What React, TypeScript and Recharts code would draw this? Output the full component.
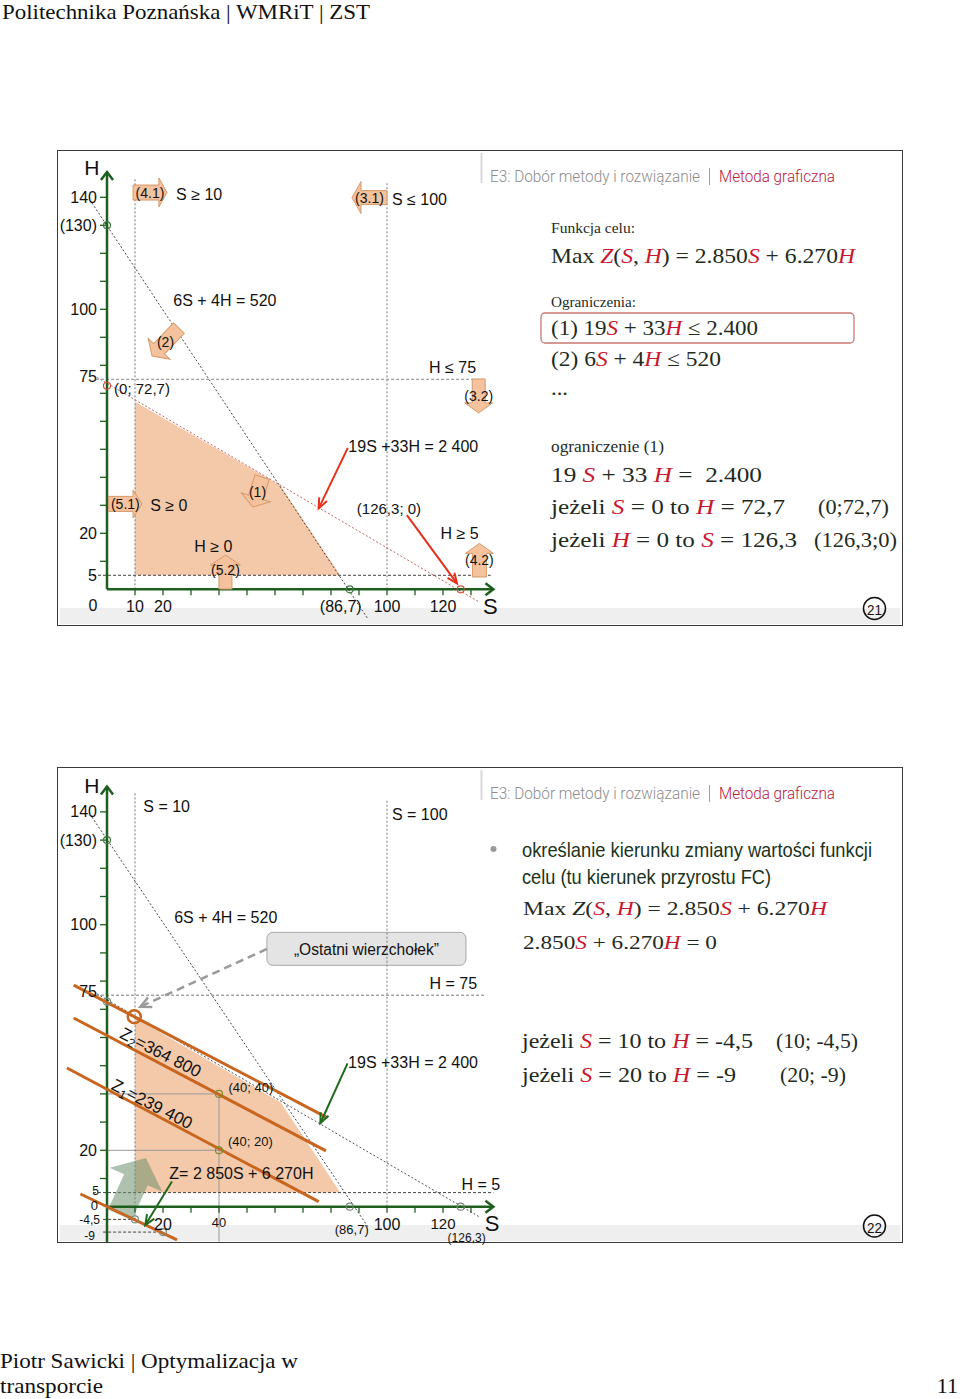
import React from 'react';
import { ComposedChart, Area, XAxis, YAxis, ReferenceLine, ReferenceDot, ReferenceArea } from 'recharts';

// feasible region: S, upper H, bottom bound H >= 5
const regionS = [10, 62, 83.3];
const regionTop = [67, 37, 5];
const regionFloor = 5;

// axis tick marks
const hTicks = [10, 20, 30, 40, 50, 60, 70, 80, 90, 100, 110, 120, 130, 140];
const sTicks = [10, 20, 30, 40, 50, 60, 70, 80, 90, 100, 110, 120, 130];

// slide 21 tick labels
const hVals1 = [140, 130, 100, 75, 20, 5];
const hText1 = ['140', '(130)', '100', '75', '20', '5'];
const sVals1 = [10, 20, 86.7, 100, 120];
const sText1 = ['10', '20', '(86,7)', '100', '120'];

// slide 22 tick labels
const hVals2 = [140, 130, 100, 75, 20, 5, 0, -4.5, -9];
const hText2 = ['140', '(130)', '100', '75', '20', '5', '0', '-4,5', '-9'];
const sVals2 = [20, 40, 86.7, 100, 120, 126.3];
const sText2 = ['20', '40', '(86,7)', '100', '120', '(126,3)'];

// constraint lines as drawn, [S, H] end points
const line520A = [[-5.4, 138], [93, -10.3]];
const line2400A = [[-3.6, 75.7], [133, -4.6]];
const line520B = [[-5.4, 138.2], [93.5, -7.6]];
const line2400B = [[-3.6, 75.5], [132.8, -3.5]];

// iso-profit lines Z = 2850S + 6270H (slide 22)
const isoLast = [[-11.9, 78.6], [78.8, 31.5]];
const isoZ2 = [[-11.9, 66.9], [78.2, 19.8]];
const isoZ1 = [[-14.3, 49.2], [75.6, 1.8]];
const isoZ0 = [[-9.5, 4.5], [25, -11.8]];

// marked points
const pointsA = [[0, 130], [0, 72.7], [86.7, 0], [126.3, 0]];
const pointsB = [[0, 130], [0, 72.7], [40, 40], [40, 20], [86.7, 0], [126.3, 0], [10, -4.5], [20, -9]];
const lastVertex = [9.75, 67.4];

const FONT = '"Liberation Sans", Arial, sans-serif';
const SERIF = '"Liberation Serif", "Times New Roman", serif';
const AX = '#1E5E1E';
const PEACH = '#F3C9A9';
const ARROW_FILL = '#F4C29D';
const ARROW_LINE = '#D6996A';
const ORANGE = '#C8651E';
const INK = '#1E2B1E';
const RED = '#C8172E';

const CW = 445, SX0 = 49, PXS = 2.8;
const xDomain = [-SX0 / PXS, (CW - SX0) / PXS];
const yDomain = (y0: number, py: number, ch: number) => [(y0 - ch) / py, y0 / py];

const regionData = regionS.map((s, i) => ({ s, h: regionTop[i] }));

function seg(key: string, a: number[], b: number[], o: any = {}) {
  return (
    <ReferenceLine key={key} segment={[{ x: a[0], y: a[1] }, { x: b[0], y: b[1] }]} ifOverflow="visible"
      stroke={o.stroke || '#555'} strokeWidth={o.w || 1} strokeDasharray={o.dash} />
  );
}

function arrow(key: string, a: number[], b: number[], o: any = {}) {
  const color = o.stroke || '#000';
  const w = o.w || 2;
  const head = o.head || 10;
  const spread = o.spread || 0.5;
  return (
    <ReferenceLine key={key} segment={[{ x: a[0], y: a[1] }, { x: b[0], y: b[1] }]} ifOverflow="visible"
      shape={(p: any) => {
        const { x1, y1, x2, y2 } = p;
        const t = Math.atan2(y2 - y1, x2 - x1);
        const ax = x2 - head * Math.cos(t - spread), ay = y2 - head * Math.sin(t - spread);
        const bx = x2 - head * Math.cos(t + spread), by = y2 - head * Math.sin(t + spread);
        return (
          <g>
            <line x1={x1} y1={y1} x2={x2} y2={y2} stroke={color} strokeWidth={w} strokeDasharray={o.dash} />
            <polyline points={`${ax},${ay} ${x2},${y2} ${bx},${by}`} fill="none" stroke={color} strokeWidth={w} />
          </g>
        );
      }} />
  );
}

function blockArrow(key: string, a: number[], b: number[], label: string, o: any = {}) {
  const bw = o.bw || 15, hw = o.hw || 29, hl = o.hl || 9;
  return (
    <ReferenceLine key={key} segment={[{ x: a[0], y: a[1] }, { x: b[0], y: b[1] }]} ifOverflow="visible"
      shape={(p: any) => {
        const { x1, y1, x2, y2 } = p;
        const L = Math.hypot(x2 - x1, y2 - y1);
        const ang = (Math.atan2(y2 - y1, x2 - x1) * 180) / Math.PI;
        const pts = [[0, -bw / 2], [L - hl, -bw / 2], [L - hl, -hw / 2], [L, 0], [L - hl, hw / 2], [L - hl, bw / 2], [0, bw / 2]];
        return (
          <g>
            <polygon points={pts.map((q) => q.join(',')).join(' ')} transform={`translate(${x1},${y1}) rotate(${ang})`}
              fill={o.fill || ARROW_FILL} stroke={o.line || ARROW_LINE} strokeWidth={1} fillOpacity={o.opacity || 1} />
            {label ? (
              <text x={(x1 + x2) / 2 + (o.dx || 0)} y={(y1 + y2) / 2 + (o.dy || 0)} textAnchor="middle" dominantBaseline="central"
                fontFamily={FONT} fontSize={14} fill="#111">{label}</text>
            ) : null}
          </g>
        );
      }} />
  );
}

function label(key: string, s: number, h: number, text: any, o: any = {}) {
  return (
    <ReferenceDot key={key} x={s} y={h} ifOverflow="visible"
      shape={(p: any) => {
        const x = p.cx + (o.dx || 0), y = p.cy + (o.dy || 0);
        return (
          <text x={x} y={y} textAnchor={o.anchor || 'middle'} dominantBaseline="central" fontFamily={FONT}
            fontSize={o.size || 16} fill={o.color || '#111'} transform={o.rotate ? `rotate(${o.rotate} ${x} ${y})` : undefined}>
            {text}
          </text>
        );
      }} />
  );
}

function circle(key: string, s: number, h: number, color: string, r = 3.5, w = 1.2) {
  return <ReferenceDot key={key} x={s} y={h} r={r} fill="none" stroke={color} strokeWidth={w} ifOverflow="visible" />;
}

function axes(prefix: string, yBottom: number) {
  const out: any[] = [];
  out.push(arrow(prefix + 'ya', [0, yBottom], [0, 149], { stroke: AX, w: 2.5, head: 10, spread: 0.65 }));
  out.push(arrow(prefix + 'xa', [0, 0], [138, 0], { stroke: AX, w: 2.5, head: 10, spread: 0.65 }));
  hTicks.forEach((h) =>
    out.push(<ReferenceDot key={prefix + 'ht' + h} x={0} y={h} ifOverflow="visible"
      shape={(p: any) => <line x1={p.cx - 7} y1={p.cy} x2={p.cx} y2={p.cy} stroke={AX} strokeWidth={1.3} />} />));
  sTicks.forEach((s) =>
    out.push(<ReferenceDot key={prefix + 'st' + s} x={s} y={0} ifOverflow="visible"
      shape={(p: any) => <line x1={p.cx} y1={p.cy} x2={p.cx} y2={p.cy + 6} stroke={AX} strokeWidth={1.3} />} />));
  return out;
}

function ChartOne() {
  const CH = 474;
  const hOff: any = { '75': -3 };
  const sOff: any = { '(86,7)': -9 };
  return (
    <ComposedChart width={CW} height={CH} data={regionData} margin={{ top: 0, right: 0, bottom: 0, left: 0 }}>
      <XAxis type="number" dataKey="s" domain={xDomain} allowDataOverflow hide />
      <YAxis type="number" domain={yDomain(438.3, 2.8, CH)} allowDataOverflow hide />
      <Area dataKey="h" type="linear" baseValue={regionFloor} fill={PEACH} fillOpacity={1} stroke="none"
        dot={false} activeDot={false} isAnimationActive={false} />
      {seg('s10', [10, 0], [10, 147], { stroke: '#777', dash: '2 2' })}
      {seg('s100', [100, 0], [100, 145], { stroke: '#777', dash: '2 2' })}
      {seg('h75', [-3.9, 75], [135, 75], { stroke: '#888', dash: '3 2' })}
      {seg('h5', [-5, 5], [137, 5], { stroke: '#444', dash: '3 2' })}
      {seg('l520', line520A[0], line520A[1], { stroke: '#444', dash: '2 2' })}
      {seg('l2400', line2400A[0], line2400A[1], { stroke: '#D06060', dash: '2 2' })}
      {axes('a', 0)}
      {pointsA.map((p, i) => circle('pa' + i, p[0], p[1], i % 2 === 0 ? '#3C7A3C' : '#D0503A'))}
      {blockArrow('b41', [9.3, 141.7], [21.4, 141.7], '(4.1)', { bw: 15, hw: 29, hl: 8 })}
      {blockArrow('b31', [100, 139.9], [87.5, 139.9], '(3.1)', { bw: 14, hw: 32, hl: 9 })}
      {blockArrow('b2', [25.7, 93.3], [16.1, 83.3], '(2)', { bw: 15, hw: 30, hl: 10 })}
      {blockArrow('b1', [55.4, 40.1], [52.1, 29.4], '(1)', { bw: 15, hw: 30, hl: 10 })}
      {blockArrow('b32', [132.75, 75.1], [132.75, 63], '(3.2)', { bw: 13, hw: 28, hl: 10 })}
      {blockArrow('b42', [133, 4.4], [133, 16.4], '(4.2)', { bw: 14, hw: 28, hl: 10 })}
      {blockArrow('b51', [0.6, 30.5], [12.5, 30.5], '(5.1)', { bw: 15, hw: 28, hl: 9 })}
      {blockArrow('b52', [42.3, 0.1], [42.3, 12.2], '(5.2)', { bw: 13, hw: 30, hl: 10, dy: -2 })}
      {arrow('ra', [86, 50.5], [75.6, 28.9], { stroke: '#E5301C', w: 2, head: 11, spread: 0.4 })}
      {arrow('rb', [107.1, 26.5], [125, 2.1], { stroke: '#E5301C', w: 2, head: 11, spread: 0.4 })}
      {hVals1.map((v, i) => label('hl' + i, 0, v, hText1[i], { anchor: 'end', dx: -10, dy: hOff[hText1[i]] || 0 }))}
      {label('zero', 0, 0, '0', { dx: -14, dy: 16 })}
      {sVals1.map((v, i) => label('sl' + i, v, 0, sText1[i], { dy: 17, dx: sOff[sText1[i]] || 0 }))}
      {label('H', -5.4, 150.5, 'H', { size: 21 })}
      {label('S', 136.9, -6.2, 'S', { size: 22 })}
      {label('p727', 12.5, 71.8, '(0; 72,7)', { size: 15 })}
      {label('c520', 42.1, 103.1, '6S + 4H = 520')}
      {label('s10t', 32.9, 141.1, 'S ≥ 10')}
      {label('s100t', 111.6, 139.3, 'S ≤ 100')}
      {label('h75t', 123.4, 79.3, 'H ≤ 75')}
      {label('c2400', 109.4, 50.9, '19S +33H = 2 400')}
      {label('p1263', 100.7, 28.9, '(126,3; 0)', { size: 15 })}
      {label('h5t', 125.9, 20, 'H ≥ 5')}
      {label('s0t', 22.1, 29.8, 'S ≥ 0')}
      {label('h0t', 38, 15.2, 'H ≥ 0')}
    </ComposedChart>
  );
}

function ChartTwo() {
  const CH = 478;
  const hOff: any = { '75': -4, '5': -2, '0': -1, '-4,5': 1, '-9': 4 };
  const hDx: any = { '5': -8, '0': -9, '-4,5': -7, '-9': -12 };
  const hSize: any = { '5': 12, '0': 13, '-4,5': 12, '-9': 12 };
  const sOff: any = { '(86,7)': 23, '(126,3)': 31, '40': 16, '120': 17 };
  const sDx: any = { '(86,7)': 2, '(126,3)': 6 };
  const sSize: any = { '40': 13, '(86,7)': 13, '(126,3)': 12, '120': 15 };
  const iso = { stroke: ORANGE, w: 3 };
  return (
    <ComposedChart width={CW} height={CH} data={regionData} margin={{ top: 0, right: 0, bottom: 0, left: 0 }}>
      <XAxis type="number" dataKey="s" domain={xDomain} allowDataOverflow hide />
      <YAxis type="number" domain={yDomain(438.7, 2.82, CH)} allowDataOverflow hide />
      <Area dataKey="h" type="linear" baseValue={regionFloor} fill={PEACH} fillOpacity={1} stroke="none"
        dot={false} activeDot={false} isAnimationActive={false} />
      {seg('g40h', [0, 40], [40, 40], { stroke: '#999' })}
      {seg('g20h', [0, 20], [40, 20], { stroke: '#999' })}
      {seg('g40v', [40, -12.4], [40, 40], { stroke: '#999' })}
      {seg('s10', [10, -4.5], [10, 147], { stroke: '#777', dash: '2 2' })}
      {seg('s100', [100, 0], [100, 144], { stroke: '#777', dash: '2 2' })}
      {seg('h75', [-3.9, 75], [135, 75], { stroke: '#777', dash: '3 2' })}
      {seg('h5', [-5, 5], [138, 5], { stroke: '#444', dash: '3 2' })}
      {seg('hm45', [-1.4, -4.5], [10, -4.5], { stroke: '#444', dash: '3 2' })}
      {seg('hm9', [-1.4, -9], [20, -9], { stroke: '#444', dash: '3 2' })}
      {seg('l520', line520B[0], line520B[1], { stroke: '#444', dash: '2 2' })}
      {seg('l2400', line2400B[0], line2400B[1], { stroke: '#555', dash: '2 2' })}
      {blockArrow('grow', [4.6, -2.9], [13.9, 17.3], '', { bw: 26, hw: 58, hl: 24, fill: '#6E8F6E', line: 'none', opacity: 0.55 })}
      {axes('b', -12.5)}
      {seg('zl', isoLast[0], isoLast[1], iso)}
      {seg('z2', isoZ2[0], isoZ2[1], iso)}
      {seg('z1', isoZ1[0], isoZ1[1], iso)}
      {seg('z0', isoZ0[0], isoZ0[1], iso)}
      {pointsB.map((p, i) =>
        circle('pb' + i, p[0], p[1], i === 0 ? '#3C7A3C' : i === 2 || i === 3 ? '#7E8A2A' : '#7A8A7A'))}
      {circle('last', lastVertex[0], lastVertex[1], ORANGE, 6.5, 2.5)}
      <ReferenceArea x1={57.1} x2={128.2} y1={85.6} y2={97.3} ifOverflow="visible"
        shape={(p: any) => (
          <g>
            <rect x={p.x} y={p.y} width={p.width} height={p.height} rx={6} fill="#E4E4E4" stroke="#A8A8A8" strokeWidth={1} />
            <text x={p.x + p.width / 2} y={p.y + p.height / 2 + 1} textAnchor="middle" dominantBaseline="central"
              fontFamily={FONT} fontSize={16} fill="#111" textLength={145} lengthAdjust="spacingAndGlyphs">
              „Ostatni wierzchołek”
            </text>
          </g>
        )} />
      {arrow('dash', [57.1, 91.4], [11.9, 70.9], { stroke: '#9A9A9A', w: 2.5, dash: '8 5', head: 12, spread: 0.45 })}
      {arrow('ga', [85.9, 50.8], [76.2, 29.6], { stroke: '#1E6B1E', w: 2, head: 11, spread: 0.4 })}
      {arrow('gb', [23.2, 8.9], [13.7, -6.5], { stroke: '#1E6B1E', w: 2, head: 11, spread: 0.4 })}
      {hVals2.map((v, i) =>
        label('hl' + i, 0, v, hText2[i], {
          anchor: 'end', dx: hDx[hText2[i]] ?? -10, dy: hOff[hText2[i]] || 0, size: hSize[hText2[i]] || 16,
        }))}
      {sVals2.map((v, i) =>
        label('sl' + i, v, 0, sText2[i], { dy: sOff[sText2[i]] || 18, dx: sDx[sText2[i]] || 0, size: sSize[sText2[i]] || 16 }))}
      {label('H', -5.4, 149.5, 'H', { size: 21 })}
      {label('S', 137.5, -5.8, 'S', { size: 22 })}
      {label('s10t', 21.3, 141.8, 'S = 10')}
      {label('s100t', 111.7, 139.2, 'S = 100')}
      {label('c520', 42.4, 102.5, '6S + 4H = 520')}
      {label('h75t', 123.7, 79, 'H = 75')}
      {label('c2400', 109.3, 51, '19S +33H = 2 400')}
      {label('p4040', 51.4, 42.2, '(40; 40)', { size: 13 })}
      {label('p4020', 51.2, 23, '(40; 20)', { size: 13 })}
      {label('zf', 48, 11.8, 'Z= 2 850S + 6 270H')}
      {label('h5t', 133.5, 7.9, 'H = 5')}
      {label('z2t', 19.2, 54.7, <>Z<tspan dy={5} fontSize={12}>2</tspan><tspan dy={-5}>=364 800</tspan></>, { size: 17, rotate: 27 })}
      {label('z1t', 16.1, 36.4, <>Z<tspan dy={5} fontSize={12}>1</tspan><tspan dy={-5}>=239 400</tspan></>, { size: 17, rotate: 27 })}
    </ComposedChart>
  );
}

type Part = [string, string?, boolean?];

function Line({ x, y, size, len, parts, family = SERIF, color = INK, weight }: any) {
  return (
    <text x={x} y={y} fontSize={size} fontFamily={family} fill={color} fontWeight={weight}
      textLength={len} lengthAdjust="spacingAndGlyphs" style={{ whiteSpace: 'pre' }}>
      {(parts as Part[]).map((p, i) => (
        <tspan key={i} fill={p[1] || color} fontStyle={p[2] ? 'italic' : undefined}>{p[0]}</tspan>
      ))}
    </text>
  );
}

function Title({ y }: { y: number }) {
  const fam = 'Roboto, "Liberation Sans", sans-serif';
  return (
    <g>
      <line x1={481.5} y1={y - 29} x2={481.5} y2={y + 1} stroke="#D8D8D8" strokeWidth={2} />
      <Line x={490} y={y} size={17} len={210} family={fam} weight={300} color="#8C8C8C"
        parts={[['E3: Dobór metody i rozwiązanie']]} />
      <line x1={709.5} y1={y - 14} x2={709.5} y2={y + 3} stroke="#A0A0A0" strokeWidth={1} />
      <Line x={719} y={y} size={17} len={116} family={fam} weight={300} color="#B8203C"
        parts={[['Metoda graficzna']]} />
    </g>
  );
}

function SlideNo({ y, n }: { y: number; n: string }) {
  return (
    <g>
      <circle cx={874.5} cy={y} r={11} fill="none" stroke="#111" strokeWidth={1.5} />
      <text x={874.5} y={y + 1} textAnchor="middle" dominantBaseline="central" fontFamily={FONT} fontSize={15}
        textLength={15} lengthAdjust="spacingAndGlyphs" fill="#111">{n}</text>
    </g>
  );
}

function Overlay() {
  const I = true;
  return (
    <svg width={960} height={1399} style={{ position: 'absolute', left: 0, top: 0 }}>
      <text x={2} y={19} fontFamily={SERIF} fontSize={21} textLength={368} lengthAdjust="spacingAndGlyphs" fill="#111">
        Politechnika Poznańska | WMRiT | ZST
      </text>
      <text x={0} y={1368} fontFamily={SERIF} fontSize={22} textLength={298} lengthAdjust="spacingAndGlyphs" fill="#111">
        Piotr Sawicki | Optymalizacja w
      </text>
      <text x={0} y={1393} fontFamily={SERIF} fontSize={22} textLength={103} lengthAdjust="spacingAndGlyphs" fill="#111">
        transporcie
      </text>
      <text x={958} y={1393} textAnchor="end" fontFamily={SERIF} fontSize={22} fill="#111">11</text>

      {/* slide 21 */}
      <Title y={182} />
      <Line x={551} y={233} size={14} len={84} parts={[['Funkcja celu:']]} />
      <Line x={551} y={263} size={21} len={304}
        parts={[['Max '], ['Z', RED, I], ['('], ['S', RED, I], [', '], ['H', RED, I], [') = 2.850'], ['S', RED, I], [' + 6.270'], ['H', RED, I]]} />
      <Line x={551} y={307} size={14} len={85} parts={[['Ograniczenia:']]} />
      <rect x={541} y={313} width={313} height={30} rx={4} fill="none" stroke="#C97A72" strokeWidth={1.3} />
      <Line x={551} y={335} size={21} len={207}
        parts={[['(1) 19'], ['S', RED, I], [' + 33'], ['H', RED, I], [' ≤ 2.400']]} />
      <Line x={551} y={366} size={21} len={170}
        parts={[['(2) 6'], ['S', RED, I], [' + 4'], ['H', RED, I], [' ≤ 520']]} />
      <Line x={551} y={395} size={21} len={17} parts={[['...']]} />
      <Line x={551} y={452} size={16} len={113} parts={[['ograniczenie (1)']]} />
      <Line x={551} y={482} size={21} len={211}
        parts={[['19 '], ['S', RED, I], [' + 33 '], ['H', RED, I], [' =  2.400']]} />
      <Line x={551} y={514} size={21} len={234}
        parts={[['jeżeli '], ['S', RED, I], [' = 0 to '], ['H', RED, I], [' = 72,7']]} />
      <Line x={818} y={514} size={21} len={71} parts={[['(0;72,7)']]} />
      <Line x={551} y={547} size={21} len={246}
        parts={[['jeżeli '], ['H', RED, I], [' = 0 to '], ['S', RED, I], [' = 126,3']]} />
      <Line x={814} y={547} size={21} len={83} parts={[['(126,3;0)']]} />
      <SlideNo y={608.5} n="21" />

      {/* slide 22 */}
      <Title y={799} />
      <circle cx={493.5} cy={849} r={3} fill="#9A9A9A" />
      <Line x={522} y={857} size={21} len={350} family={FONT} color="#1A331A"
        parts={[['określanie kierunku zmiany wartości funkcji']]} />
      <Line x={522} y={884} size={21} len={249} family={FONT} color="#1A331A"
        parts={[['celu (tu kierunek przyrostu FC)']]} />
      <Line x={523} y={915} size={19} len={304}
        parts={[['Max '], ['Z', INK, I], ['('], ['S', RED, I], [', '], ['H', RED, I], [') = 2.850'], ['S', RED, I], [' + 6.270'], ['H', RED, I]]} />
      <Line x={523} y={949} size={19} len={194}
        parts={[['2.850'], ['S', RED, I], [' + 6.270'], ['H', RED, I], [' = 0']]} />
      <Line x={522} y={1048} size={21} len={231}
        parts={[['jeżeli '], ['S', RED, I], [' = 10 to '], ['H', RED, I], [' = -4,5']]} />
      <Line x={776} y={1048} size={21} len={82} parts={[['(10; -4,5)']]} />
      <Line x={522} y={1082} size={21} len={214}
        parts={[['jeżeli '], ['S', RED, I], [' = 20 to '], ['H', RED, I], [' = -9']]} />
      <Line x={780} y={1082} size={21} len={66} parts={[['(20; -9)']]} />
      <SlideNo y={1226} n="22" />
    </svg>
  );
}

function Frame({ top }: { top: number }) {
  return (
    <div style={{ position: 'absolute', left: 57, top, width: 846, height: 476, boxSizing: 'border-box', border: '1.5px solid #3A3A3A', background: '#fff' }}>
      <div style={{ position: 'absolute', left: 2, right: 2, bottom: 1, height: 16, background: '#EFEFEF' }} />
    </div>
  );
}

export default function App() {
  return (
    <div style={{ position: 'absolute', left: 0, top: 0, width: 960, height: 1399, background: '#fff', overflow: 'hidden' }}>
      <Frame top={150} />
      <Frame top={767} />
      <div style={{ position: 'absolute', left: 58, top: 151 }}>
        <ChartOne />
      </div>
      <div style={{ position: 'absolute', left: 58, top: 768 }}>
        <ChartTwo />
      </div>
      <Overlay />
    </div>
  );
}
